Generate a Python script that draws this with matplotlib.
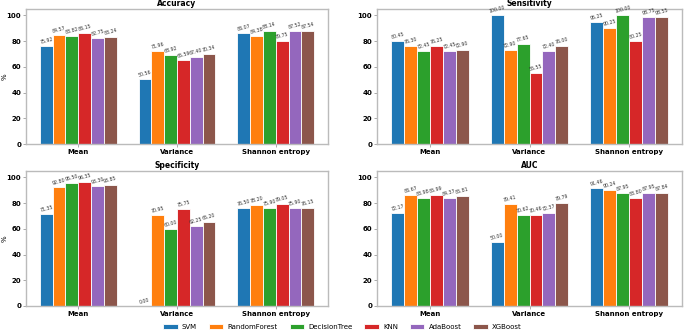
import numpy as np
import matplotlib
matplotlib.use("Agg")
import matplotlib.pyplot as plt

# data
stats = ["Mean", "Variance", "Shannon entropy"]
models = ["SVM", "RandomForest", "DecisionTree", "KNN", "AdaBoost", "XGBoost"]
colors = ["#1f77b4", "#ff7f0e", "#2ca02c", "#d62728", "#9467bd", "#8c564b"]

# rows = models, columns = Mean / Variance / Shannon entropy
accuracy = [
    [75.92, 50.56, 86.07],
    [84.57, 71.96, 84.38],
    [83.82, 68.92, 88.14],
    [86.15, 65.59, 79.75],
    [82.75, 67.40, 87.52],
    [83.24, 70.34, 87.54],
]
sensitivity = [
    [80.45, 100.00, 95.25],
    [76.30, 72.90, 90.25],
    [72.45, 77.65, 100.00],
    [76.25, 55.55, 80.25],
    [72.45, 72.40, 98.75],
    [72.90, 76.00, 98.55],
]
specificity = [
    [71.35, 0.00, 76.50],
    [92.80, 70.95, 78.20],
    [95.50, 60.00, 75.90],
    [96.35, 75.75, 79.05],
    [93.30, 62.25, 75.90],
    [93.85, 65.20, 76.15],
]
auc = [
    [72.17, 50.00, 91.46],
    [86.67, 79.41, 90.24],
    [83.98, 70.62, 87.95],
    [85.99, 70.46, 83.80],
    [84.37, 72.37, 87.95],
    [85.81, 79.79, 87.84],
]

panels = [("Accuracy", accuracy), ("Sensitivity", sensitivity),
          ("Specificity", specificity), ("AUC", auc)]

fig = plt.figure(figsize=(6.85, 3.32), dpi=100)
# axes boxes in figure fractions (left, bottom, width, height)
boxes = [
    (26/685, 1 - 144/332, 302/685, 135/332),
    (377/685, 1 - 144/332, 305/685, 135/332),
    (26/685, 1 - 306/332, 302/685, 135/332),
    (377/685, 1 - 306/332, 305/685, 135/332),
]

x = np.arange(len(stats))
width = 0.13

for k, ((title, data), box) in enumerate(zip(panels, boxes)):
    ax = fig.add_axes(box)
    for i, (m, c) in enumerate(zip(models, colors)):
        pos = x + (i - 2.5) * width
        bars = ax.bar(pos, data[i], width, color=c, edgecolor="white",
                      linewidth=0.6, label=m)
        for b, v in zip(bars, data[i]):
            ax.text(b.get_x() + b.get_width() / 2, v + 0.8, f"{v:.2f}",
                    ha="center", va="bottom", fontsize=3.4, rotation=15,
                    color="#333333")
    ax.set_ylim(0, 105)
    ax.set_xlim(-0.53, 2.53)
    ax.set_yticks([0, 20, 40, 60, 80, 100])
    ax.set_xticks(x)
    ax.set_xticklabels(stats, fontsize=5, fontweight="bold")
    for lab in ax.get_yticklabels():
        lab.set_fontsize(5)
        lab.set_fontweight("bold")
    ax.tick_params(axis="both", length=2, width=0.5, pad=1.5, color="#888888")
    ax.set_title(title, fontsize=5.5, fontweight="bold", pad=2)
    if k % 2 == 0:
        ax.set_ylabel("%", fontsize=5)
        ax.yaxis.set_label_coords(-0.062, 0.5)
    for s in ax.spines.values():
        s.set_color("#bbbbbb")
        s.set_linewidth(1.0)

handles, labels = ax.get_legend_handles_labels()
fig.legend(handles, labels, loc="center", ncol=6, frameon=False,
           fontsize=5, bbox_to_anchor=(0.5, 5/332), handlelength=2.1,
           handleheight=0.6, columnspacing=1.7, handletextpad=0.6)

fig.savefig("out.png", dpi=100)
